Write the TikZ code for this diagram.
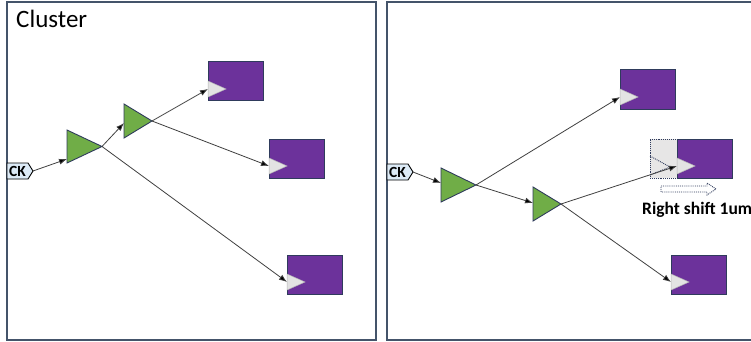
\documentclass[tikz,border=0pt]{standalone}
\usepackage{fontspec}
\setmainfont{Carlito}
\usetikzlibrary{arrows.meta,calc,shapes.symbols}

\definecolor{panelcol}{HTML}{44546A}
\definecolor{edgecol}{HTML}{2F3B5C}
\definecolor{bufgreen}{HTML}{70AD47}
\definecolor{ffpurple}{HTML}{6C329B}
\definecolor{clkgray}{HTML}{E3E3E3}
\definecolor{ghostgray}{HTML}{E7E6E6}
\definecolor{pinblue}{HTML}{DDEBF7}
\definecolor{wirecol}{HTML}{404040}

\tikzset{
  panel/.style={draw=panelcol, line width=1.3pt},
  buffer/.style={fill=bufgreen, draw=edgecol, line width=0.9pt, line join=miter},
  flop/.style={rectangle, draw=edgecol, line width=1pt, fill=ffpurple,
    minimum width=55pt, minimum height=39pt, inner sep=0pt, outer sep=0pt},
  clk/.style={fill=clkgray, draw=clkgray!80!black, line width=0.5pt},
  ckport/.style={signal, signal to=east, signal pointer angle=116, draw=black,
    line width=0.9pt, fill=pinblue, minimum width=26pt, minimum height=16pt,
    inner sep=0pt, outer sep=0pt, font=\bfseries\fontsize{15.5}{16}\selectfont},
  wire/.style={draw=wirecol, line width=0.8pt,
    -{Latex[length=8pt,width=6pt,fill=black]}},
  ghost/.style={draw=edgecol, densely dotted, line width=0.9pt},
}

% a flip-flop: purple box with its clock pin triangle; #1-ck is the clock input
\newcommand\flop[3]{%
  \node[flop, anchor=north west] (#1) at (#2,#3) {};
  \draw[clk] ($(#1.south west)+(0,-20)$) -- ($(#1.south west)+(18,-12)$)
    -- ($(#1.south west)+(0,-4)$) -- cycle;
  \coordinate (#1-ck) at ($(#1.south west)+(0,-12)$);
}
% a clock buffer: name, left x, top y, bottom y, apex x
\newcommand\buf[5]{%
  \draw[buffer] (#2,#3) coordinate (#1-nw) -- (#5,{(#3+#4)/2}) coordinate (#1)
    -- (#2,#4) coordinate (#1-sw) -- cycle;
}

\begin{document}
\begin{tikzpicture}[x=1pt,y=-1pt]
\useasboundingbox (0,0) rectangle (751,342);
\clip (0,0) rectangle (751,342);

% ---------- left panel: the clock tree before the change ----------
\draw[panel] (7,2) rectangle (376,340);
\node[font=\fontsize{25}{30}\selectfont, anchor=base west, inner sep=0pt]
  (title) at (16,28) {Cluster};

\node[ckport, anchor=west] (ckA) at (7,171) {CK};
\buf{bA1}{67}{130}{163}{102}
\buf{bA2}{124}{104}{138}{152}
\flop{fA1}{208}{62}
\flop{fA2}{269}{139}
\flop{fA3}{287}{255}

\draw[wire] (ckA.east) -- ($(bA1-nw)!0.88!(bA1-sw)$);
\draw[wire] (bA1) -- ($(bA2-nw)!0.56!(bA2-sw)$);
\draw[wire] (bA1) -- (fA3-ck);
\draw[wire] (bA2) -- (fA1-ck);
\draw[wire] (bA2) -- (fA2-ck);

% ---------- right panel: one flop moved right ----------
\draw[panel] (387,2) rectangle (800,340);

\node[ckport, anchor=west] (ckB) at (387,172) {CK};
\buf{bB1}{441}{168}{202}{476}
\buf{bB2}{533}{187}{221}{561}
\flop{fB1}{620}{70}

% old position of the moved flop
\node[ghost, fill=ghostgray, rectangle, minimum width=55pt, minimum height=39pt,
  inner sep=0pt, outer sep=0pt, anchor=north west] (oldpos) at (650,139) {};
\draw[ghost] ($(oldpos.south west)+(0,-22)$) -- ($(oldpos.south west)+(20,-11)$)
  -- ($(oldpos.south west)+(0,-3)$);

\flop{fB2}{677}{139}
\flop{fB3}{671}{255}

\draw[wire] (ckB.east) -- ($(bB1-nw)!0.44!(bB1-sw)$);
\draw[wire] (bB1) -- ($(bB2-nw)!0.47!(bB2-sw)$);
\draw[wire] (bB1) -- (fB1-ck);
\draw[wire] (bB2) -- (fB2-ck);
\draw[wire] (bB2) -- (fB3-ck);

% hollow dotted arrow showing the move
\draw[ghost, fill=white, line join=miter]
  (661,186) -- (707,186) -- (707,183) -- (716,189) -- (707,195) -- (707,192)
  -- (661,192) -- cycle;
\node[font=\bfseries\fontsize{17.5}{20}\selectfont, anchor=base west,
  inner sep=0pt] (shiftlbl) at (642,214) {Right shift 1um};
\end{tikzpicture}
\end{document}
